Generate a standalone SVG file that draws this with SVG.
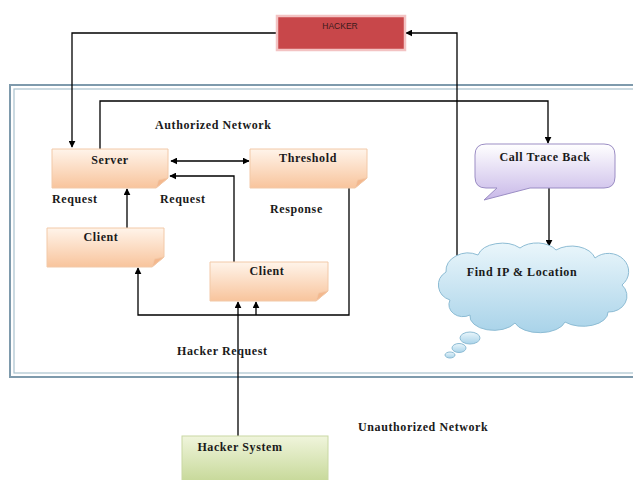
<svg xmlns="http://www.w3.org/2000/svg" width="633" height="480" viewBox="0 0 633 480">
  <defs>
    <linearGradient id="gOrange" x1="0" y1="0" x2="0" y2="1">
      <stop offset="0" stop-color="#fff4ea"/>
      <stop offset="1" stop-color="#f8c49c"/>
    </linearGradient>
    <linearGradient id="gGreen" x1="0" y1="0" x2="0" y2="1">
      <stop offset="0" stop-color="#f0f5dc"/>
      <stop offset="1" stop-color="#c3d693"/>
    </linearGradient>
    <linearGradient id="gPurple" x1="0" y1="0" x2="0" y2="1">
      <stop offset="0" stop-color="#ffffff"/>
      <stop offset="1" stop-color="#c8b8e8"/>
    </linearGradient>
    <linearGradient id="gCloud" x1="0" y1="0" x2="0" y2="1">
      <stop offset="0" stop-color="#eaf6fb"/>
      <stop offset="1" stop-color="#a9d3e9"/>
    </linearGradient>
    <marker id="arrow" viewBox="0 0 10 10" refX="9" refY="5" markerWidth="7" markerHeight="7" orient="auto-start-reverse" markerUnits="userSpaceOnUse">
      <path d="M0,0 L10,5 L0,10 Z" fill="#000"/>
    </marker>
    <style>
      .lbl { font-family: "Liberation Serif", "Times New Roman", serif; font-weight: bold; font-size: 12px; letter-spacing: 0.6px; fill: #1a1a1a; }
      .node { fill: url(#gOrange); stroke: #f2c9a8; stroke-width: 1; }
      .fold { fill: #f3b88e; stroke: #f2c9a8; stroke-width: 0.8; }
      .wire { fill: none; stroke: #000; stroke-width: 1.3; }
      .frameOuter { fill: none; stroke: #7e9aac; stroke-width: 2; }
      .frameInner { fill: none; stroke: #a9c1cd; stroke-width: 1.2; }
    </style>
  </defs>

  <rect width="633" height="480" fill="#ffffff"/>

  <!-- network frame (double border) -->
  <g id="frame">
    <rect class="frameOuter" x="10" y="85" width="640" height="292"/>
    <rect class="frameInner" x="14" y="89" width="640" height="284"/>
  </g>

  <!-- connectors -->
  <g id="connectors">
    <path class="wire" d="M277,33 H72 V147" marker-end="url(#arrow)"/>
    <path class="wire" d="M100,149 V101 H548 V143" marker-end="url(#arrow)"/>
    <path class="wire" d="M171,161 H249" marker-start="url(#arrow)" marker-end="url(#arrow)"/>
    <path class="wire" d="M234,262 V176 H170" marker-end="url(#arrow)"/>
    <path class="wire" d="M127,228 V189" marker-end="url(#arrow)"/>
    <path class="wire" d="M349,186 V315 H138 V268" marker-end="url(#arrow)"/>
    <path class="wire" d="M256,315 V302" marker-end="url(#arrow)"/>
    <path class="wire" d="M238,436 V302" marker-end="url(#arrow)"/>
    <path class="wire" d="M549,188 V246" marker-end="url(#arrow)"/>
    <path class="wire" d="M457,263 V33 H406" marker-end="url(#arrow)"/>
  </g>

  <!-- HACKER -->
  <g id="hacker">
    <rect x="277" y="16" width="128" height="34" fill="#c8474a" stroke="#f3c3c3" stroke-width="2.5"/>
    <text x="340" y="29" text-anchor="middle" font-family="Liberation Sans, Arial, sans-serif" font-size="8.5" fill="#3a1a1a">HACKER</text>
  </g>

  <!-- Server -->
  <g id="server">
    <path class="node" d="M52,149 H168 V178 L156,188 H52 Z"/>
    <path class="fold" d="M156,188 L158.5,180 L168,178 Z"/>
    <text class="lbl" x="110" y="164" text-anchor="middle">Server</text>
  </g>

  <!-- Threshold -->
  <g id="threshold">
    <path class="node" d="M250,149 H367 V178 L355,188 H250 Z"/>
    <path class="fold" d="M355,188 L357.5,180 L367,178 Z"/>
    <text class="lbl" x="308" y="162" text-anchor="middle">Threshold</text>
  </g>

  <!-- Client (left) -->
  <g id="client1">
    <path class="node" d="M47,228 H164 V257 L152,267 H47 Z"/>
    <path class="fold" d="M152,267 L154.5,259 L164,257 Z"/>
    <text class="lbl" x="101" y="241" text-anchor="middle">Client</text>
  </g>

  <!-- Client (right) -->
  <g id="client2">
    <path class="node" d="M210,262 H328 V291 L316,301 H210 Z"/>
    <path class="fold" d="M316,301 L318.5,293 L328,291 Z"/>
    <text class="lbl" x="267" y="275" text-anchor="middle">Client</text>
  </g>

  <!-- Call Trace Back -->
  <g id="callTraceBack">
    <path d="M486,144 H604 Q615,144 615,155 V177 Q615,188 604,188 H530 L484,200 L497,188 H486 Q475,188 475,177 V155 Q475,144 486,144 Z" fill="url(#gPurple)" stroke="#9b8dc4" stroke-width="1"/>
    <text class="lbl" x="545" y="161" text-anchor="middle">Call Trace Back</text>
  </g>

  <!-- Find IP & Location cloud -->
  <g id="findIp">
    <path d="M450,300 A18,16 0 0 1 446,272 A22,18 0 0 1 478,255 A25,16 0 0 1 520,248 A22,14 0 0 1 556,250 A24,16 0 0 1 595,258 A20,18 0 0 1 622,285 A18,16 0 0 1 608,312 A25,14 0 0 1 565,322 A26,14 0 0 1 515,323 A24,14 0 0 1 470,315 A14,12 0 0 1 450,300 Z" fill="url(#gCloud)" stroke="#8dbcd4" stroke-width="1"/>
    <ellipse cx="470" cy="338" rx="10" ry="6" fill="url(#gCloud)" stroke="#8dbcd4" stroke-width="1"/>
    <ellipse cx="459" cy="348" rx="7" ry="4.5" fill="url(#gCloud)" stroke="#8dbcd4" stroke-width="1"/>
    <ellipse cx="450" cy="355" rx="5" ry="3" fill="url(#gCloud)" stroke="#8dbcd4" stroke-width="1"/>
    <text class="lbl" x="522" y="276" text-anchor="middle">Find IP &amp; Location</text>
  </g>

  <!-- Hacker System -->
  <g id="hackerSystem">
    <rect x="182" y="436" width="146" height="50" fill="url(#gGreen)" stroke="#c9d8a4" stroke-width="1"/>
    <text class="lbl" x="240" y="451" text-anchor="middle">Hacker System</text>
  </g>

  <!-- free labels -->
  <g id="labels">
    <text class="lbl" x="155" y="129">Authorized Network</text>
    <text class="lbl" x="52" y="203">Request</text>
    <text class="lbl" x="160" y="203">Request</text>
    <text class="lbl" x="270" y="213">Response</text>
    <text class="lbl" x="177" y="355">Hacker Request</text>
    <text class="lbl" x="358" y="431">Unauthorized Network</text>
  </g>
</svg>
